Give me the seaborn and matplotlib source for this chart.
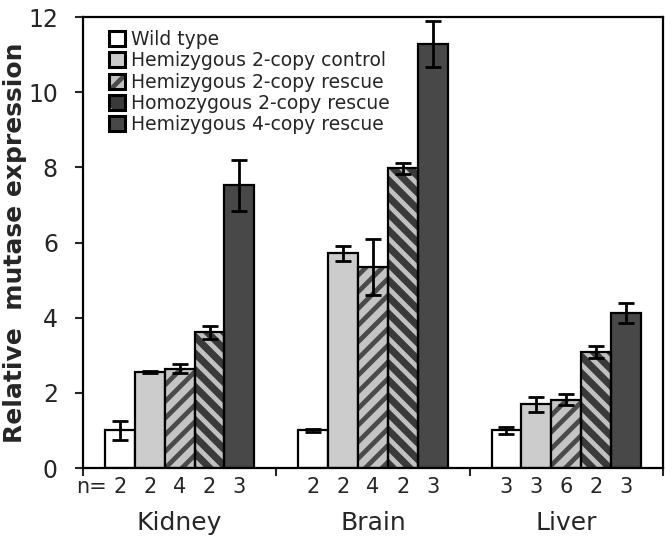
import numpy as np
import pandas as pd
import matplotlib
matplotlib.use('Agg')
import matplotlib.pyplot as plt
import matplotlib.transforms as mtransforms
from matplotlib.patches import Patch, Rectangle
from matplotlib.legend_handler import HandlerTuple
import seaborn as sns

# data
tissues = ['Kidney', 'Brain', 'Liver']
genotypes = ['Wild type', 'Hemizygous 2-copy control', 'Hemizygous 2-copy rescue',
             'Homozygous 2-copy rescue', 'Hemizygous 4-copy rescue']
wild_type = [1.0, 1.0, 1.0]
hemi_control = [2.55, 5.72, 1.70]
hemi_rescue = [2.64, 5.35, 1.82]
homo_rescue = [3.61, 7.97, 3.08]
hemi_4copy = [7.52, 11.28, 4.12]
err_wild_type = [0.25, 0.03, 0.10]
err_hemi_control = [0.03, 0.20, 0.20]
err_hemi_rescue = [0.12, 0.75, 0.14]
err_homo_rescue = [0.18, 0.15, 0.16]
err_hemi_4copy = [0.67, 0.62, 0.27]
n_wild_type = [2, 2, 3]
n_hemi_control = [2, 2, 3]
n_hemi_rescue = [4, 4, 6]
n_homo_rescue = [2, 2, 2]
n_hemi_4copy = [3, 3, 3]

values = [wild_type, hemi_control, hemi_rescue, homo_rescue, hemi_4copy]
errors = [err_wild_type, err_hemi_control, err_hemi_rescue, err_homo_rescue, err_hemi_4copy]
counts = [n_wild_type, n_hemi_control, n_hemi_rescue, n_homo_rescue, n_hemi_4copy]

rows = []
for g, vals in zip(genotypes, values):
    for t, v in zip(tissues, vals):
        rows.append({'tissue': t, 'genotype': g, 'expr': v})
df = pd.DataFrame(rows)

face = ['#ffffff', '#cccccc', '#c4c4c4', '#3a3a3a', '#484848']
hatches = [None, None, '//', '\\\\', None]
hatch_col = [None, None, '#4a4a4a', '#c0c0c0', None]

sns.set_style('ticks')
plt.rcParams['font.family'] = ['DejaVu Sans']
plt.rcParams['hatch.linewidth'] = 3.4

fig = plt.figure(figsize=(6.72, 5.44), dpi=100)
ax = fig.add_axes([0.1235, 0.1397, 0.863, 0.829])

sns.barplot(data=df, x='tissue', y='expr', hue='genotype', order=tissues,
            hue_order=genotypes, palette=face, saturation=1, width=0.773, gap=0,
            edgecolor='black', linewidth=1.6, errorbar=None, legend=False, ax=ax)
bar_conts = list(ax.containers)

# hatching (grey stripes) with a black outline on top
for i, cont in enumerate(bar_conts):
    if hatches[i] is None:
        continue
    for bar in cont:
        bar.set_hatch(hatches[i])
        bar.set_edgecolor(hatch_col[i])
        bar.set_linewidth(0)
        ax.add_patch(Rectangle(bar.get_xy(), bar.get_width(), bar.get_height(),
                               fill=False, edgecolor='black', linewidth=1.6,
                               zorder=bar.get_zorder() + 0.01))

# error bars and n labels
trans = mtransforms.blended_transform_factory(ax.transData, ax.transAxes)
for i, cont in enumerate(bar_conts):
    xs = [b.get_x() + b.get_width() / 2 for b in cont]
    ys = [b.get_height() for b in cont]
    ax.errorbar(xs, ys, yerr=errors[i], fmt='none', ecolor='black', elinewidth=2,
                capsize=5.5, capthick=2, zorder=5)
    for x, n in zip(xs, counts[i]):
        ax.text(x, -0.042, str(n), transform=trans, ha='center', va='center', fontsize=15)
first = bar_conts[0][0]
ax.text(first.get_x() + 0.012, -0.042, 'n=', transform=trans, ha='right', va='center', fontsize=15)

ax.set_xlim(-0.5, 2.5)
ax.set_ylim(0, 12)
ax.set_yticks(np.arange(0, 13, 2))
ax.set_xlabel('')
ax.set_ylabel('Relative  mutase expression', fontsize=18, fontweight='bold')
ax.yaxis.set_label_coords(-0.096, 0.5)

ax.tick_params(axis='y', labelsize=17, direction='out', length=6, width=1.5, pad=12)
ax.tick_params(axis='x', which='major', labelsize=18, length=0, pad=31)
ax.set_xticks([-0.5, 0.5, 1.5, 2.5], minor=True)
ax.tick_params(axis='x', which='minor', direction='out', length=6, width=1.5)
for s in ax.spines.values():
    s.set_visible(True)
    s.set_linewidth(1.6)
    s.set_color('black')

handles = []
for i in range(len(genotypes)):
    if hatches[i] is None:
        h = Patch(facecolor=face[i], edgecolor='black', linewidth=2.2)
    else:
        h = (Patch(facecolor=face[i], edgecolor=hatch_col[i], hatch=hatches[i][0], linewidth=0),
             Patch(fill=False, edgecolor='black', linewidth=2.2))
    handles.append(h)
ax.legend(handles, genotypes, handler_map={tuple: HandlerTuple(ndivide=1)},
          loc='upper left', bbox_to_anchor=(0.045, 0.972), frameon=False, fontsize=13.5,
          handlelength=0.85, handleheight=0.85, handletextpad=0.3, labelspacing=0.13,
          borderpad=0, borderaxespad=0)

fig.savefig('out.png', dpi=100)
